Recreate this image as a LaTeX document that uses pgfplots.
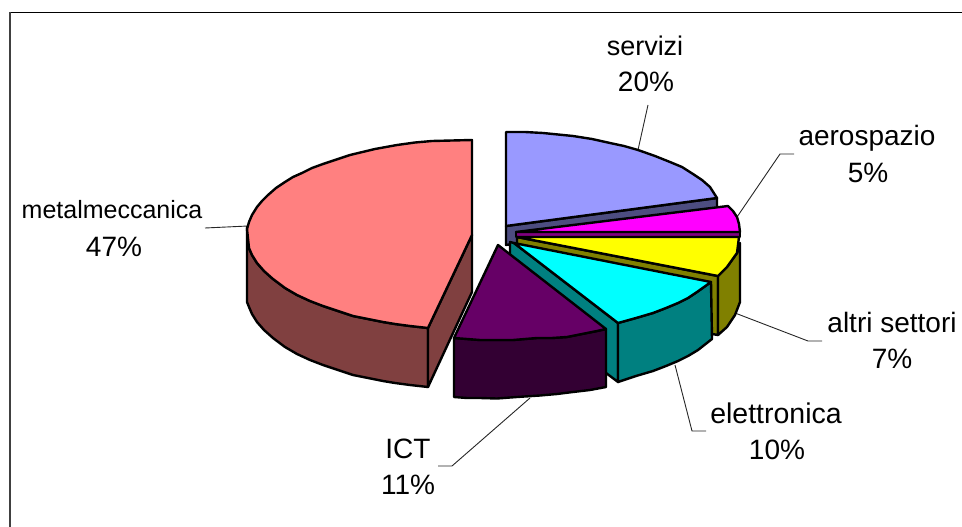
\documentclass[border=0pt]{standalone}
\usepackage{fontspec}
\setmainfont{Liberation Sans}
\usepackage{pgfplots}
\pgfplotsset{compat=1.18}

\definecolor{metaltop}{HTML}{FF8080}
\definecolor{metalside}{HTML}{804040}
\definecolor{servtop}{HTML}{9999FF}
\definecolor{servside}{HTML}{4D4D80}
\definecolor{aerotop}{HTML}{FF00FF}
\definecolor{aeroside}{HTML}{800080}
\definecolor{altritop}{HTML}{FFFF00}
\definecolor{altriside}{HTML}{808000}
\definecolor{elettop}{HTML}{00FFFF}
\definecolor{eletside}{HTML}{008080}
\definecolor{icttop}{HTML}{660066}
\definecolor{ictside}{HTML}{330033}

% label: x, baseline y, text
\newcommand{\lbl}[4][28pt]{\node[anchor=base,inner sep=0pt,font=\fontsize{#1}{#1}\selectfont] at (axis cs:#2,#3) {#4};}

\pgfplotsset{
  slice/.style={draw=black,line width=2.4pt,line join=round,fill=#1},
  leader/.style={draw=black!85,line width=0.9pt},
}

\begin{document}
\begin{tikzpicture}
\begin{axis}[
  scale only axis,
  width=962pt, height=527pt,
  xmin=0, xmax=962, ymin=0, ymax=527,
  y dir=reverse,
  hide axis,
  clip=true,
]
% keeps the page at the full plot area
\addplot[draw=none] coordinates {(0,0) (962,527)};

% frame
\addplot[draw=black,line width=1.6pt] coordinates {(9,12.5) (962,12.5)};
\addplot[draw=black!75,line width=2pt] coordinates {(9.5,12) (9.5,527)};

% leaders
\addplot[leader] coordinates {(638,150) (648,105)};
\addplot[leader] coordinates {(737,217) (780,154) (794,154)};
\addplot[leader] coordinates {(735,313) (808,341) (822,341)};
\addplot[leader] coordinates {(675,365) (692,431) (706,431)};
\addplot[leader] coordinates {(530,398) (452,466) (438,466)};
\addplot[leader] coordinates {(205,228) (248,226)};

% metalmeccanica 47%
\addplot[slice=metalside] coordinates {
  (247,227) (247,302) (249,307) (252,314) (257,322) (264,330) (273,338) (285,347) (297,354)
  (310,360) (323,365) (338,370) (353,375) (368,378) (383,381) (395,383) (410,385) (428,387)
  (428,328) (410,326) (395,324) (383,322) (368,319) (353,316) (338,311) (323,306) (310,301)
  (297,295) (285,288) (273,279) (264,271) (257,263) (252,255) (249,248)} --cycle;
\addplot[slice=metalside] coordinates {(472,235) (428,328) (428,387) (472,292)} --cycle;
\addplot[slice=metaltop] coordinates {
  (472,140) (432,141) (415,142.5) (397,145) (375,149) (350,155) (335,160) (323,164) (312,168)
  (302,173) (293,177) (285,182) (276,188) (268,195) (262,201) (257,207) (252,215) (249,222)
  (247,229) (249,248) (252,255) (257,263) (264,271) (273,279) (285,288) (297,295) (310,301)
  (323,306) (338,311) (353,316) (368,319) (383,322) (395,324) (410,326) (428,328) (472,235)} --cycle;

% servizi 20%
\addplot[slice=servside] coordinates {(506,226) (717,198) (717,212) (506,245)} --cycle;
\addplot[slice=servtop] coordinates {
  (506,132) (525,132) (543,133) (558,134.5) (573,136) (592,139) (610,143) (624,146) (638,150)
  (655,156) (670,162) (682,167) (693,174) (702,180) (710,187) (717,198) (506,226)} --cycle;

% aerospazio 5%
\addplot[slice=aeroside] coordinates {(516,232) (740,232) (740,237) (516,237)} --cycle;
\addplot[slice=aerotop] coordinates {(516,232) (728,206) (733,211) (737,217) (739,224) (740,232)} --cycle;

% altri settori 7%
\addplot[slice=altriside] coordinates {(517,237) (718,276) (718,335) (712,334) (517,250)} --cycle;
\addplot[slice=altriside] coordinates {
  (718,276) (727,267) (737,253) (740,243) (740,302) (735,315) (727,327) (718,335)} --cycle;
\addplot[slice=altritop] coordinates {
  (517,237) (739,237) (737,253) (727,267) (718,276)} --cycle;

% elettronica 10%
\addplot[slice=eletside] coordinates {(510,242) (514,243) (618,323) (618,382) (606,373) (510,260)} --cycle;
\addplot[slice=eletside] coordinates {
  (711,282) (712,339) (698,350) (688,356) (678,361) (666,366) (653,371) (636,376) (618,382) (618,323)
  (636,318) (653,313) (666,308) (678,303) (688,298) (697,292)} --cycle;
\addplot[slice=elettop] coordinates {
  (514,243) (711,282) (697,292) (688,298) (678,303) (666,308) (653,313) (636,318) (618,323)} --cycle;

% ICT 11%
\addplot[slice=ictside] coordinates {
  (454,338) (454,397) (467,398) (480,398) (497,398.5) (517,397) (540,395.5) (557,394) (573,392)
  (590,390) (606,387) (606,329) (597,331) (587,333) (577,335) (567,337) (552,338) (537,338)
  (525,339) (513,340) (497,340) (480,340) (467,339)} --cycle;
\addplot[slice=icttop] coordinates {
  (498,245) (606,329) (597,331) (587,333) (577,335) (567,337) (552,338) (537,338) (525,339)
  (513,340) (497,340) (480,340) (467,339) (454,338)} --cycle;

% labels
\lbl[27pt]{645}{56}{servizi}
\lbl{646}{92}{20\%}
\lbl{867}{145}{aerospazio}
\lbl{868}{182}{5\%}
\lbl[25pt]{112}{218}{metalmeccanica}
\lbl{114}{256}{47\%}
\lbl{892}{332}{altri settori}
\lbl{892}{368}{7\%}
\lbl[28.5pt]{776}{423}{elettronica}
\lbl{777}{459}{10\%}
\lbl{408}{458}{ICT}
\lbl{408}{494}{11\%}
\end{axis}
\end{tikzpicture}
\end{document}
